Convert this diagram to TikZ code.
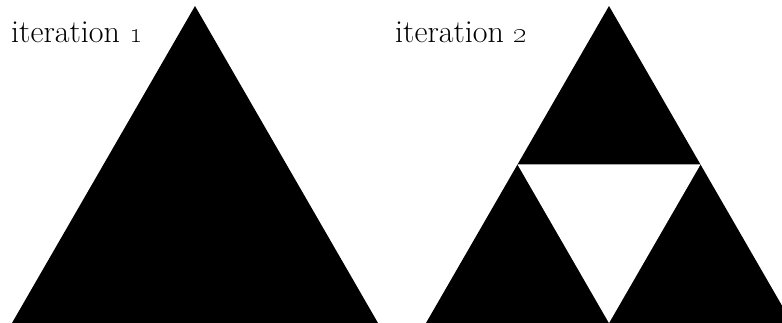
\documentclass[tikz,border=0pt]{standalone}
\usepackage{tikz}
\usetikzlibrary{calc}

\begin{document}
\begin{tikzpicture}[
    x=1pt, y=1pt,
    tri/.style={fill=black},
    hole/.style={fill=white},
    lbl/.style={anchor=base west, inner sep=0pt, font=\fontsize{32}{38}\selectfont}
]
\useasboundingbox (0,0) rectangle (782,323);
% iteration 1
\coordinate (a1) at (195,317);
\coordinate (b1) at (12,0);
\coordinate (c1) at (378,0);
\fill[tri] (a1) -- (b1) -- (c1) -- cycle;
\node[lbl] (iter1) at (11,280) {iteration \oldstylenums{1}};
% iteration 2
\coordinate (a2) at (609,317);
\coordinate (b2) at (426,0);
\coordinate (c2) at (792,0);
\fill[tri] (a2) -- (b2) -- (c2) -- cycle;
\fill[hole] ($(a2)!0.5!(b2)$) -- ($(a2)!0.5!(c2)$) -- ($(b2)!0.5!(c2)$) -- cycle;
\node[lbl] (iter2) at (395,280) {iteration \oldstylenums{2}};
\end{tikzpicture}
\end{document}
